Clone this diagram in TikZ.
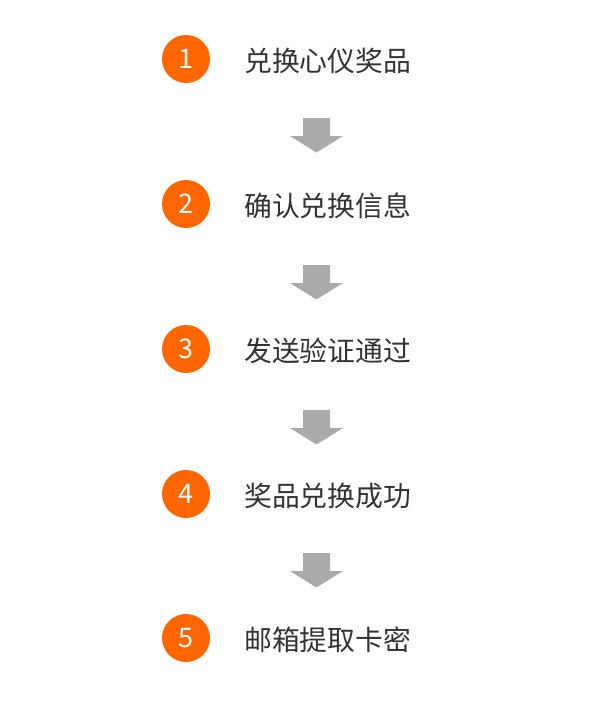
\documentclass[tikz,border=0pt]{standalone}
\usepackage{fontspec}
\setmainfont{Noto Sans CJK SC}
\newfontfamily\cjk{Noto Sans CJK SC}
\definecolor{stepor}{HTML}{FF6600}
\definecolor{steptxt}{HTML}{333333}
\definecolor{arrgray}{HTML}{AAAAAA}
\begin{document}
\begin{tikzpicture}[x=1pt,y=-1pt,
  numcircle/.style={circle,fill=stepor,minimum size=48pt,inner sep=0pt,text=white,font=\fontsize{27}{27}\selectfont},
  steplabel/.style={anchor=west,inner sep=0pt,text=steptxt,font=\cjk\fontsize{27.8}{28}\selectfont},
  downarrow/.style={fill=arrgray}]
\useasboundingbox[fill=white] (0,0) rectangle (600,707);
\foreach \i/\y/\t in {1/59/兑换心仪奖品,2/204/确认兑换信息,3/349/发送验证通过,4/494/奖品兑换成功,5/638/邮箱提取卡密}{
  \node[numcircle] (c\i) at (186,\y) {\i};
  \node[steplabel] (t\i) at (244,\y+1.5) {\t};
}
\foreach \i/\y in {1/118,2/265,3/410,4/553}{
  \coordinate (a\i) at (316.5,\y);
  \fill[downarrow] (a\i) ++(-13.5,0) -- ++(27,0) -- ++(0,18) -- ++(13,0) -- ++(-26.5,16.5) -- ++(-26.5,-16.5) -- ++(13,0) -- cycle;
}
\end{tikzpicture}
\end{document}
